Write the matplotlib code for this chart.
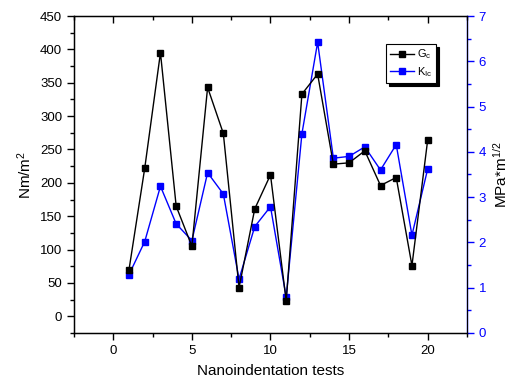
"""
Gc and KIc from nanoindentation tests (two y axes)
"""
import matplotlib

matplotlib.use("Agg")
import matplotlib.pyplot as plt
from matplotlib.ticker import MultipleLocator

plt.rcParams["font.family"] = ["Liberation Sans", "DejaVu Sans"]
plt.rcParams["mathtext.fontset"] = "custom"
plt.rcParams["mathtext.rm"] = "Liberation Sans"
plt.rcParams["mathtext.it"] = "Liberation Sans"

# test number
tests = list(range(1, 21))
# fracture energy Gc (Nm/m^2), left axis
gc = [70, 222, 395, 165, 105, 343, 274, 43, 161, 212,
      23, 333, 363, 228, 230, 248, 196, 208, 76, 264]
# fracture toughness KIc (MPa*m^1/2), right axis
kic = [1.29, 2.02, 3.24, 2.41, 2.04, 3.54, 3.07, 1.19, 2.35, 2.79,
       0.79, 4.40, 6.42, 3.86, 3.90, 4.11, 3.60, 4.16, 2.16, 3.62]

blue = "#0000ff"

fig = plt.figure(figsize=(5.09, 3.81), dpi=100)
ax = fig.add_axes([0.1454, 0.126, 0.772, 0.832])
ax2 = ax.twinx()

l1, = ax.plot(tests, gc, "-s", color="black", lw=1, ms=4.6, label="G$_c$")
l2, = ax2.plot(tests, kic, "-s", color=blue, lw=1, ms=4.6, label="K$_{Ic}$")
ax2.set_zorder(ax.get_zorder() - 1)  # black series on top
ax.patch.set_visible(False)

ax.set_xlim(-2.5, 22.5)
ax.set_ylim(-25, 450)
ax2.set_ylim(0, 7)

ax.xaxis.set_major_locator(MultipleLocator(5))
ax.xaxis.set_minor_locator(MultipleLocator(2.5))
ax.yaxis.set_major_locator(MultipleLocator(50))
ax.yaxis.set_minor_locator(MultipleLocator(25))
ax2.yaxis.set_major_locator(MultipleLocator(1))
ax2.yaxis.set_minor_locator(MultipleLocator(0.5))

ax.tick_params(axis="both", which="major", direction="out", length=5, width=1,
               labelsize=9.5, top=True)
ax.tick_params(axis="both", which="minor", direction="out", length=3, width=1, top=True)
for t in ax.xaxis.get_major_ticks() + ax.xaxis.get_minor_ticks():
    t.tick2line.set_marker(3)  # inward on the top spine
ax2.tick_params(axis="y", which="major", direction="out", length=5, width=1,
                labelsize=9.5, color=blue, labelcolor=blue)
ax2.tick_params(axis="y", which="minor", direction="out", length=3, width=1, color=blue)
ax2.spines["right"].set_color(blue)
for s in ["left", "bottom", "top"]:
    ax.spines[s].set_linewidth(1)
ax2.spines["right"].set_linewidth(1)

ax.set_xlabel("Nanoindentation tests", fontsize=11, labelpad=5)
ax.set_ylabel("Nm/m$^2$", fontsize=11, labelpad=4)
ax2.set_ylabel("MPa*m$^{1/2}$", fontsize=11, labelpad=4)

leg = ax.legend([l1, l2], ["G$_c$", "K$_{Ic}$"], loc="upper right",
                bbox_to_anchor=(0.935, 0.93), fontsize=8, fancybox=False,
                edgecolor="black", framealpha=1, handlelength=2.2,
                handletextpad=0.2, borderpad=0.35, labelspacing=0.35,
                shadow={"color": "black", "alpha": 1})
leg.get_frame().set_linewidth(0.8)

fig.savefig("out.png", dpi=100)
